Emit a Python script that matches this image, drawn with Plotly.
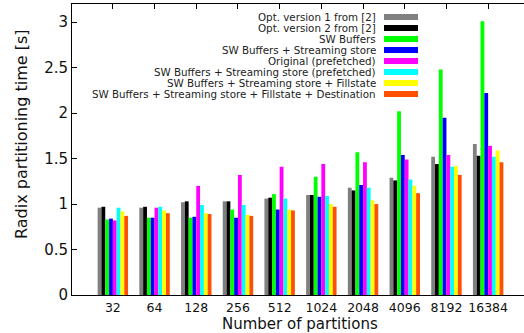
import plotly.graph_objects as go

categories = ["32", "64", "128", "256", "512", "1024", "2048", "4096", "8192", "16384"]
series_names = [
    "Opt. version 1 from [2]",
    "Opt. version 2 from [2]",
    "SW Buffers",
    "SW Buffers + Streaming store",
    "Original (prefetched)",
    "SW Buffers + Streaming store (prefetched)",
    "SW Buffers + Streaming store + Fillstate",
    "SW Buffers + Streaming store + Fillstate + Destination",
]
opt_v1 = [0.96, 0.96, 1.02, 1.03, 1.06, 1.10, 1.18, 1.29, 1.52, 1.66]
opt_v2 = [0.97, 0.97, 1.03, 1.03, 1.07, 1.10, 1.15, 1.26, 1.44, 1.53]
sw_buffers = [0.83, 0.85, 0.85, 0.94, 1.11, 1.30, 1.57, 2.02, 2.48, 3.01]
sw_stream = [0.84, 0.85, 0.86, 0.85, 0.94, 1.08, 1.21, 1.54, 1.95, 2.22]
original_pf = [0.82, 0.96, 1.20, 1.32, 1.41, 1.44, 1.46, 1.49, 1.54, 1.64]
sw_stream_pf = [0.96, 0.97, 0.99, 0.99, 1.06, 1.09, 1.18, 1.27, 1.41, 1.52]
sw_fill = [0.92, 0.93, 0.90, 0.88, 0.94, 1.00, 1.04, 1.20, 1.42, 1.59]
sw_fill_dest = [0.87, 0.90, 0.89, 0.87, 0.93, 0.97, 1.00, 1.12, 1.32, 1.46]
all_values = [opt_v1, opt_v2, sw_buffers, sw_stream, original_pf, sw_stream_pf, sw_fill, sw_fill_dest]
colors = ["#808080", "#000000", "#00ff00", "#0000ff", "#ff00ff", "#00ffff", "#ffff00", "#ff4f00"]
y_ticks = [0, 0.5, 1, 1.5, 2, 2.5, 3]
y_tick_labels = ["0", "0.5", "1", "1.5", "2", "2.5", "3"]
x_title = "Number of partitions"
y_title = "Radix partitioning time [s]"

FONT = "DejaVu Sans, Liberation Sans, sans-serif"
W, H = 524, 333
ML, MR, MT, MB = 72, 0, 4, 38
PW, PH = W - ML - MR, H - MT - MB
XR = [-0.98, 9.86]


def px(x):
    return (x - ML) / PW


def py(y):
    return (H - MB - y) / PH


fig = go.Figure()
xs = list(range(len(categories)))
for name, vals, col in zip(series_names, all_values, colors):
    fig.add_trace(go.Bar(x=xs, y=vals, name=name, marker=dict(color=col, line=dict(width=0)),
                         showlegend=False, hoverinfo="skip"))

# manual legend (text right, swatch on the right like gnuplot)
for i, (name, col) in enumerate(zip(series_names, colors)):
    yy = 17 + 11 * i
    fig.add_annotation(xref="paper", yref="paper", x=px(378), y=py(yy), text=name,
                       showarrow=False, xanchor="right", yanchor="middle",
                       font=dict(family=FONT, size=10.3, color="#222"))
    fig.add_shape(type="rect", xref="paper", yref="paper",
                  x0=px(384), x1=px(418), y0=py(yy + 3), y1=py(yy - 3),
                  fillcolor=col, line=dict(width=0))

# axis titles placed like gnuplot
fig.add_annotation(xref="paper", yref="paper", x=px(300), y=py(323.5), text=x_title,
                   showarrow=False, xanchor="center", yanchor="middle",
                   font=dict(family=FONT, size=15, color="#111"))
fig.add_annotation(xref="paper", yref="paper", x=px(21), y=py(134), text=y_title,
                   showarrow=False, xanchor="center", yanchor="middle", textangle=-90,
                   font=dict(family=FONT, size=16, color="#111"))

fig.update_layout(
    width=W, height=H,
    margin=dict(l=ML, r=MR, t=MT, b=MB, autoexpand=False),
    paper_bgcolor="white", plot_bgcolor="white",
    barmode="group", bargap=0.27, bargroupgap=0,
    font=dict(family=FONT, size=13, color="#111"),
    hovermode=False,
    xaxis=dict(
        range=XR, tickmode="array", tickvals=xs, ticktext=categories, automargin=False,
        ticks="", showline=True, linecolor="#000", linewidth=1, mirror=False,
        showgrid=False, zeroline=False, tickfont=dict(size=12.5), ticklabelstandoff=1,
    ),
    xaxis2=dict(
        overlaying="x", side="top", range=XR, tickmode="array", tickvals=xs,
        showticklabels=False, ticks="inside", ticklen=5, tickcolor="#000", automargin=False,
        showline=True, linecolor="#000", linewidth=1, showgrid=False, zeroline=False,
    ),
    yaxis=dict(
        range=[0, 3.2], tickmode="array", tickvals=y_ticks, ticktext=y_tick_labels,
        ticks="inside", ticklen=5, tickcolor="#000", showline=True, linecolor="#000",
        linewidth=1, showgrid=False, zeroline=False, tickfont=dict(size=15),
        automargin=False, ticklabelstandoff=0,
    ),
)
fig.add_trace(go.Scatter(x=[0], y=[0], xaxis="x2", mode="markers", marker=dict(opacity=0),
                         showlegend=False, hoverinfo="skip"))

fig.write_html("out.html", config={"displayModeBar": False, "staticPlot": True},
               post_script="document.body.style.margin='0';document.body.style.overflow='hidden';")
